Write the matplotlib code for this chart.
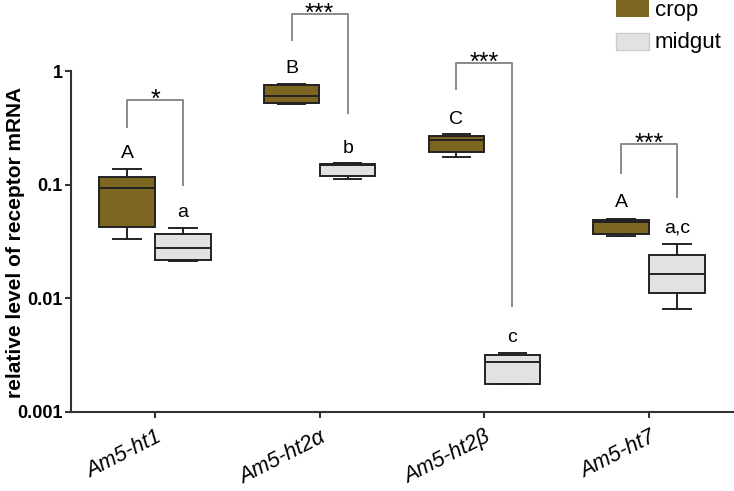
import matplotlib
matplotlib.use("Agg")
from matplotlib import pyplot as plt
from matplotlib.patches import Rectangle
import numpy as np

plt.rcParams['font.family'] = ['Liberation Sans', 'DejaVu Sans']

# data (relative receptor mRNA, log scale)
genes = ["Am5-ht1", "Am5-ht2\u03b1", "Am5-ht2\u03b2", "Am5-ht7"]
crop_whislo = [0.033, 0.51, 0.175, 0.0353]
crop_q1 = [0.042, 0.52, 0.194, 0.037]
crop_med = [0.093, 0.60, 0.245, 0.047]
crop_q3 = [0.117, 0.75, 0.267, 0.049]
crop_whishi = [0.137, 0.767, 0.279, 0.050]

mid_whislo = [0.0215, 0.112, 0.00176, 0.00805]
mid_q1 = [0.0217, 0.119, 0.00176, 0.0111]
mid_med = [0.0277, 0.150, 0.00275, 0.0164]
mid_q3 = [0.037, 0.153, 0.00317, 0.024]
mid_whishi = [0.0415, 0.155, 0.0033, 0.030]

crop_letters = ["A", "B", "C", "A"]
crop_letter_y = [0.171, 0.957, 0.341, 0.0635]
mid_letters = ["a", "b", "c", "a,c"]
mid_letter_y = [0.0519, 0.19, 0.00413, 0.0383]

stars = ["*", "***", "***", "***"]
bracket_left = [0.32, 1.87, 0.69, 0.126]
bracket_top = [0.555, 3.16, 1.17, 0.227]
bracket_right = [0.1, 0.426, 0.00855, 0.078]

crop_color = "#7d6622"
mid_color = "#e2e2e2"
edge = "#222222"

fig = plt.figure(figsize=(7.34, 4.91), dpi=100)
ax = fig.add_axes([71/734, 1-412/491, 662/734, 341/491])

x = np.arange(1, len(genes) + 1)
off = 0.17
w = 0.335

def stats(lo, q1, med, q3, hi):
    return [dict(whislo=a, q1=b, med=c, q3=d, whishi=e, fliers=[])
            for a, b, c, d, e in zip(lo, q1, med, q3, hi)]

for st, pos, col in [(stats(crop_whislo, crop_q1, crop_med, crop_q3, crop_whishi), x - off, crop_color),
                     (stats(mid_whislo, mid_q1, mid_med, mid_q3, mid_whishi), x + off, mid_color)]:
    ax.bxp(st, positions=pos, widths=w, patch_artist=True, showfliers=False,
           boxprops=dict(facecolor=col, edgecolor=edge, linewidth=1.4),
           medianprops=dict(color=edge, linewidth=1.4),
           whiskerprops=dict(color=edge, linewidth=1.4),
           capprops=dict(color=edge, linewidth=1.4))

# significance brackets
for i in range(len(genes)):
    xl, xr = x[i] - off, x[i] + off
    ax.plot([xl, xl, xr, xr], [bracket_left[i], bracket_top[i], bracket_top[i], bracket_right[i]],
            color="#8a8a8a", lw=1.4, clip_on=False)
    ax.annotate(stars[i], xy=(x[i], bracket_top[i]), xytext=(0, -5), textcoords="offset points",
                ha="center", va="baseline", fontsize=18, annotation_clip=False)
    ax.text(x[i] - off, crop_letter_y[i], crop_letters[i], ha="center", va="baseline", fontsize=14)
    ax.text(x[i] + off, mid_letter_y[i], mid_letters[i], ha="center", va="baseline", fontsize=14)

ax.set_yscale("log")
ax.set_ylim(0.001, 1)
ax.set_xlim(0.49, 4.51)
ax.set_yticks([0.001, 0.01, 0.1, 1])
ax.set_yticklabels(["0.001", "0.01", "0.1", "1"], fontweight="bold", fontsize=13)
ax.yaxis.set_minor_locator(matplotlib.ticker.NullLocator())
ax.set_xticks(x)
ax.set_xticklabels(genes, rotation=27, ha="right", va="top", rotation_mode="anchor",
                   fontstyle="italic", fontsize=15.5)

for s in ["top", "right"]:
    ax.spines[s].set_visible(False)
for s in ["left", "bottom"]:
    ax.spines[s].set_linewidth(1.5)
    ax.spines[s].set_color("#333333")
ax.tick_params(direction="out", length=4, width=1.5, color="#333333", pad=2)
ax.tick_params(axis="x", pad=7)

fig.text(16/734, 1-242/491, "relative level of receptor mRNA", rotation=90,
         ha="center", va="center", fontweight="bold", fontsize=15)

# legend
fig.patches.append(Rectangle((616/734, 1-17/491), 33/734, 17/491, transform=fig.transFigure,
                             facecolor=crop_color, edgecolor="none"))
fig.patches.append(Rectangle((616/734, 1-50/491), 33/734, 17/491, transform=fig.transFigure,
                             facecolor=mid_color, edgecolor="#cccccc", lw=1))
fig.text(655/734, 1-16/491, "crop", fontsize=16, va="baseline")
fig.text(655/734, 1-48/491, "midgut", fontsize=16, va="baseline")

fig.savefig("out.png", dpi=100)
